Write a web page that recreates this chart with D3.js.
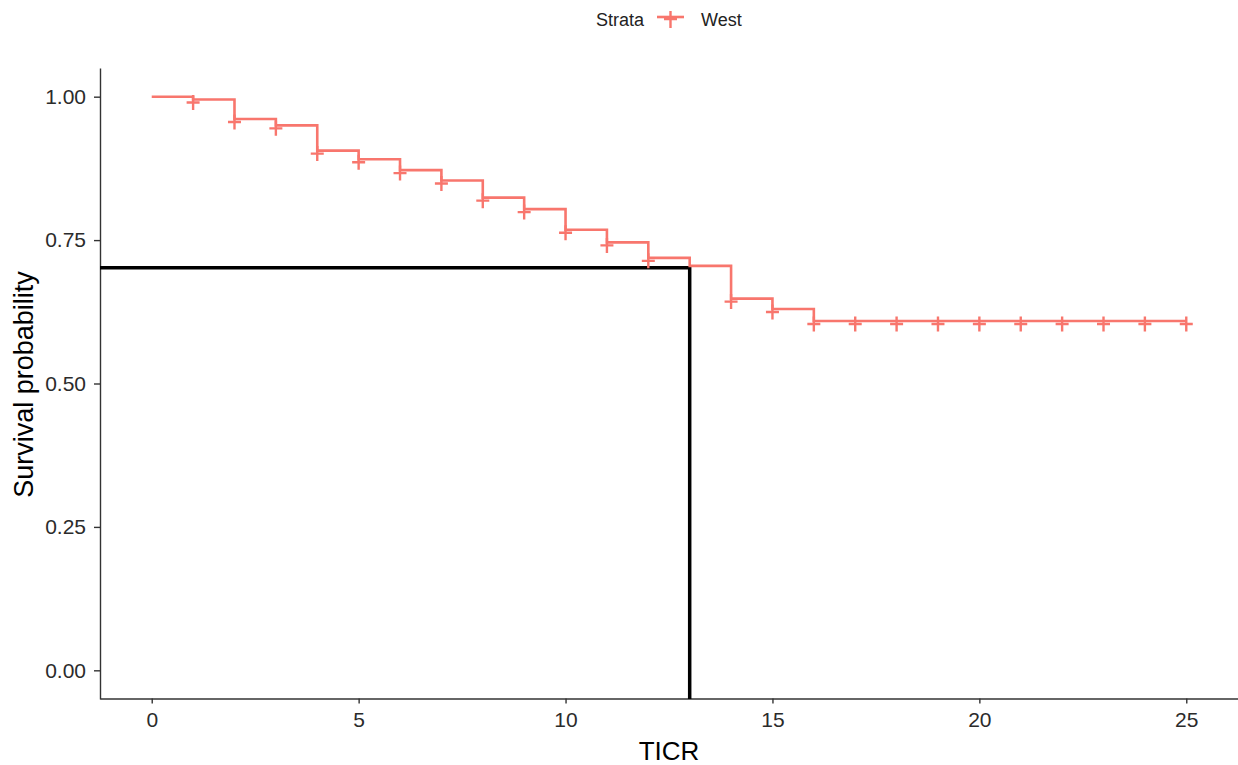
<!DOCTYPE html>
<html>
<head>
<meta charset="utf-8">
<script src="https://cdn.jsdelivr.net/npm/d3@7"></script>
<style>
  html, body { margin: 0; padding: 0; background: #fff; }
  svg { display: block; font-family: "Liberation Sans", Arial, sans-serif; }
</style>
</head>
<body>
<svg id="chart" width="1238" height="765"></svg>
<script>
// ---- data ----
const stepTimes = [0, 1, 2, 3, 4, 5, 6, 7, 8, 9, 10, 11, 12, 13, 14, 15, 16, 25];
const stepSurv  = [1.000, 0.995, 0.961, 0.950, 0.906, 0.891, 0.872, 0.854, 0.824, 0.804, 0.768, 0.746, 0.719, 0.705, 0.648, 0.630, 0.609, 0.609];
const censorTimes = [1, 2, 3, 4, 5, 6, 7, 8, 9, 10, 11, 12, 14, 15, 16, 17, 18, 19, 20, 21, 22, 23, 24, 25];
const xTicks = [0, 5, 10, 15, 20, 25];
const yTicks = [0, 0.25, 0.5, 0.75, 1.0];
const refTime = 13;
const refSurv = 0.702;
const strataName = "West";
const curveColor = "#F8766D";

(function () {
// ---- layout ----
const svg = d3.select("#chart");
const pLeft = 100, pRight = 1238, pTop = 68, pBottom = 699;

const x = d3.scaleLinear().domain([-1.25, 26.25]).range([pLeft, pRight]);
const y = d3.scaleLinear().domain([-0.05, 1.05]).range([pBottom, pTop]);

// survival at time t (step function)
function survAt(t) {
  let v = stepSurv[0];
  for (let i = 0; i < stepTimes.length; i++) if (stepTimes[i] <= t) v = stepSurv[i];
  return v;
}

// axes
const xAxis = d3.axisBottom(x).tickValues(xTicks).tickFormat(d3.format("d"))
  .tickSizeInner(5).tickSizeOuter(0).tickPadding(9);
const yAxis = d3.axisLeft(y).tickValues(yTicks).tickFormat(d3.format(".2f"))
  .tickSizeInner(6).tickSizeOuter(0).tickPadding(8);

const gx = svg.append("g").attr("transform", `translate(0,${pBottom - 0.5})`).call(xAxis);
const gy = svg.append("g").attr("transform", `translate(${pLeft},0)`).call(yAxis);

[gx, gy].forEach(g => {
  g.select(".domain").attr("stroke", "#333").attr("stroke-width", 1.4);
  g.selectAll(".tick line").attr("stroke", "#333").attr("stroke-width", 1.4);
  g.selectAll(".tick text").attr("fill", "#2b2b2b").attr("font-size", 21)
    .attr("font-family", "Liberation Sans, Arial, sans-serif");
});

// reference (black) lines
svg.append("path")
  .attr("d", d3.line()([[x(-1.25), y(refSurv)], [x(refTime), y(refSurv)], [x(refTime), y(-0.05)]]))
  .attr("fill", "none").attr("stroke", "#000").attr("stroke-width", 3.5);

// KM curve
const line = d3.line().x(d => x(d[0])).y(d => y(d[1])).curve(d3.curveStepAfter);
svg.append("path")
  .datum(stepTimes.map((t, i) => [t, stepSurv[i]]))
  .attr("d", line)
  .attr("fill", "none").attr("stroke", curveColor).attr("stroke-width", 2.6);

// censor marks ("+" glyph, sits slightly below the line)
const cg = svg.append("g");
censorTimes.forEach(t => {
  const cx = x(t), cy = y(survAt(t)) + 3;
  cg.append("path")
    .attr("d", `M${cx - 6.5},${cy}H${cx + 6.5}M${cx},${cy - 7.5}V${cy + 7.5}`)
    .attr("stroke", curveColor).attr("stroke-width", 2.4).attr("fill", "none");
});

// axis titles
svg.append("text").attr("x", x(12.5)).attr("y", 760).attr("text-anchor", "middle")
  .attr("font-size", 26).attr("fill", "#000").text("TICR");
svg.append("text").attr("transform", `translate(33,${(pTop + pBottom) / 2 + 1}) rotate(-90)`)
  .attr("text-anchor", "middle").attr("font-size", 27).attr("fill", "#000").text("Survival probability");

// legend
const lg = svg.append("g");
lg.append("text").attr("x", 596).attr("y", 26).attr("font-size", 18).attr("fill", "#222").text("Strata");
lg.append("line").attr("x1", 657).attr("x2", 684).attr("y1", 17).attr("y2", 17)
  .attr("stroke", curveColor).attr("stroke-width", 2.6);
lg.append("path").attr("d", "M664,19H677M670.5,11V28")
  .attr("stroke", curveColor).attr("stroke-width", 2.4).attr("fill", "none");
lg.append("text").attr("x", 701).attr("y", 26).attr("font-size", 18).attr("fill", "#222").text(strataName);
})();
</script>
</body>
</html>
